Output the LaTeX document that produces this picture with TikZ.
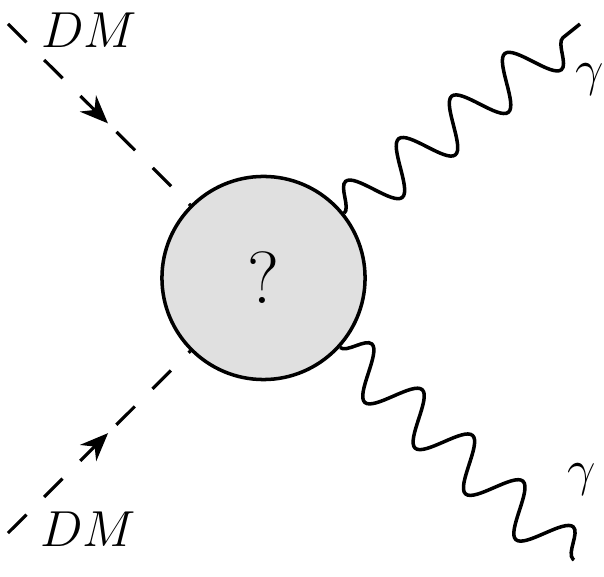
\documentclass[tikz,border=0pt]{standalone}
\usepackage{amsmath}
\usetikzlibrary{arrows.meta,decorations.pathmorphing,decorations.markings}
\definecolor{blobGray}{RGB}{224,224,224}

\begin{document}
\begin{tikzpicture}[x=0.01cm, y=-0.01cm,
  vertex/.style={circle, draw=black, line width=1pt, fill=blobGray, minimum size=2.03cm, inner sep=0pt, font=\fontsize{21}{25}\selectfont},
  lab/.style={inner sep=0pt, font=\fontsize{13.5}{16}\selectfont},
  dm/.style={line width=0.9pt, dash pattern=on 0.26cm off 0.25cm, postaction={decorate},
    decoration={markings, mark=at position 0.55 with {\arrow{Stealth[length=8pt,width=6.5pt]}}}},
  photon/.style={line width=1pt, decorate, decoration={snake, amplitude=0.24cm, segment length=0.68cm}}
]
  \useasboundingbox (0,0) rectangle (604,577);

  % blob
  \node[vertex] (blob) at (263.5,278) {?};

  % external legs
  \coordinate (dmA) at (8,24);
  \coordinate (dmB) at (8,533);
  \coordinate (gA) at (580,24);
  \coordinate (gB) at (574,560);

  \draw[dm] (dmA) -- (blob);
  \draw[dm] (dmB) -- (blob);
  \draw[photon] (blob) -- (gA);
  \draw[photon] (blob) -- (gB);

  % labels
  \node[lab] (dmAl) at (89,30) {$DM$};
  \node[lab] (dmBl) at (88,529) {$DM$};
  \node[lab] (gAl) at (590,80) {$\gamma$};
  \node[lab] (gBl) at (582,480) {$\gamma$};
\end{tikzpicture}
\end{document}
